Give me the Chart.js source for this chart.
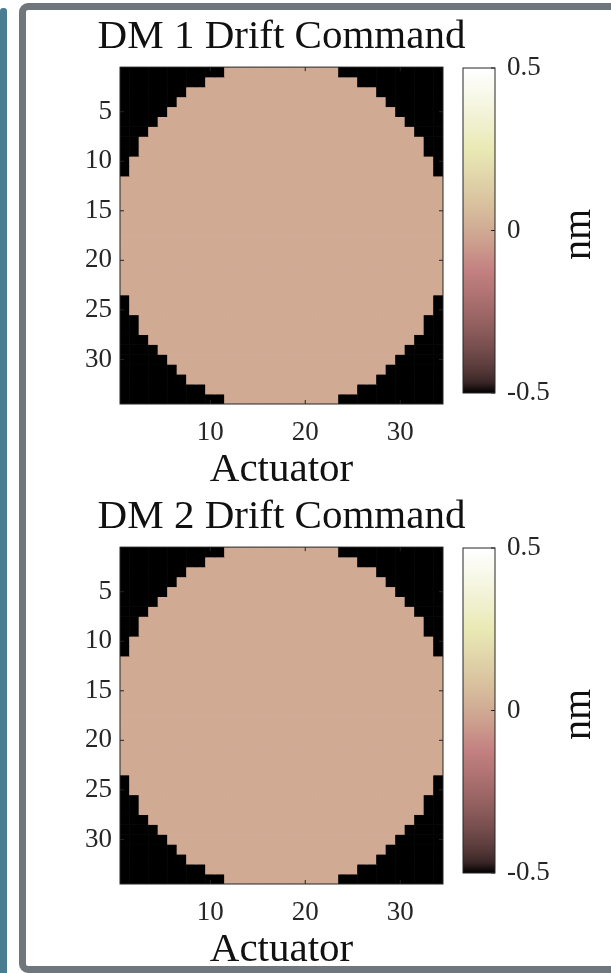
<!DOCTYPE html>
<html>
<head>
<meta charset="utf-8">
<script src="https://cdn.jsdelivr.net/npm/chart.js@4.4.1/dist/chart.umd.min.js"></script>
<style>
  html, body { margin: 0; padding: 0; background: #fff; }
  body { width: 611px; height: 973px; position: relative; overflow: hidden; }
  .strip { position: absolute; left: 0; top: 8px; width: 7px; height: 965px; background: #4a7d92; border-radius: 3px 3px 0 0; }
  .frame { position: absolute; left: 19px; top: 3px; width: 700px; height: 970px; box-sizing: border-box;
           border: 7px solid #6f767c; border-radius: 9px; }
  .box { position: absolute; }
</style>
</head>
<body>
<div class="strip"></div>
<div class="frame"></div>
<div class="box" style="left:20px;top:10px"><canvas id="heat1" width="523" height="479"></canvas></div>
<div class="box" style="left:20px;top:490px"><canvas id="heat2" width="523" height="479"></canvas></div>
<div class="box" style="left:453px;top:10px"><canvas id="bar1" width="158" height="479"></canvas></div>
<div class="box" style="left:453px;top:490px"><canvas id="bar2" width="158" height="479"></canvas></div>
<script>
const serif = "'Liberation Serif', 'Times New Roman', serif";
const axisColor = '#262626';

// actuator index (same for rows and columns)
const actuators = [1, 2, 3, 4, 5, 6, 7, 8, 9, 10, 11, 12, 13, 14, 15, 16, 17,
  18, 19, 20, 21, 22, 23, 24, 25, 26, 27, 28, 29, 30, 31, 32, 33, 34];
// first / last active actuator of each row (pupil mask)
const rowFirst = [12, 10, 8, 7, 6, 5, 4, 3, 3, 2, 2, 1, 1, 1, 1, 1, 1,
  1, 1, 1, 1, 1, 1, 2, 2, 3, 3, 4, 5, 6, 7, 8, 10, 12];
const rowLast = [23, 25, 27, 28, 29, 30, 31, 32, 32, 33, 33, 34, 34, 34, 34, 34, 34,
  34, 34, 34, 34, 34, 34, 33, 33, 32, 32, 31, 30, 29, 28, 27, 25, 23];
// drift command inside the pupil (nm), outside value is the bottom of the scale
const dm1Drift = 0.0;
const dm2Drift = 0.0;
const outsideValue = -0.5;

const xTicks = [10, 20, 30];
const yTicks = [5, 10, 15, 20, 25, 30];
const cbTicks = [-0.5, 0, 0.5];
const cbMin = -0.5;
const cbMax = 0.5;

// MATLAB "pink" colormap
function pinkColor(v) {
  let t = (v - cbMin) / (cbMax - cbMin);
  t = Math.max(0, Math.min(1, t));
  const cl = x => Math.max(0, Math.min(1, x));
  const hr = cl(t / 0.375), hg = cl((t - 0.375) / 0.375), hb = cl((t - 0.75) / 0.25);
  const r = Math.sqrt((2 * t + hr) / 3), g = Math.sqrt((2 * t + hg) / 3), b = Math.sqrt((2 * t + hb) / 3);
  return 'rgb(' + Math.round(r * 255) + ',' + Math.round(g * 255) + ',' + Math.round(b * 255) + ')';
}

const boxPlugin = {
  id: 'box',
  afterDatasetsDraw(chart) {
    const { ctx, chartArea: a, scales } = chart;
    ctx.save();
    ctx.strokeStyle = axisColor;
    ctx.lineWidth = 1;
    ctx.strokeRect(a.left, a.top, a.right - a.left, a.bottom - a.top);
    ctx.beginPath();
    if (chart.canvas.id.startsWith('heat')) {
      xTicks.forEach(t => {
        const x = scales.x.getPixelForValue(actuators.indexOf(t));
        ctx.moveTo(x, a.bottom); ctx.lineTo(x, a.bottom - 4);
        ctx.moveTo(x, a.top); ctx.lineTo(x, a.top + 4);
      });
      yTicks.forEach(t => {
        const y = scales.y.getPixelForValue(t);
        ctx.moveTo(a.left, y); ctx.lineTo(a.left + 4, y);
        ctx.moveTo(a.right, y); ctx.lineTo(a.right - 4, y);
      });
    } else {
      cbTicks.forEach(t => {
        const y = scales.y.getPixelForValue(t);
        ctx.moveTo(a.right, y); ctx.lineTo(a.right - 4, y);
      });
    }
    ctx.stroke();
    ctx.restore();
  }
};

function heatmap(id, title, level) {
  const datasets = actuators.map((row, i) => ({
    label: 'row ' + row,
    data: actuators.map(() => [row - 0.5, row + 0.5]),
    backgroundColor: actuators.map(col =>
      (col >= rowFirst[i] && col <= rowLast[i]) ? pinkColor(level) : pinkColor(outsideValue)),
    borderWidth: 0,
    barPercentage: 1,
    categoryPercentage: 1,
    grouped: false
  }));
  new Chart(document.getElementById(id), {
    type: 'bar',
    data: { labels: actuators, datasets: datasets },
    plugins: [boxPlugin],
    options: {
      responsive: false,
      animation: false,
      layout: { padding: 0 },
      plugins: {
        legend: { display: false },
        tooltip: { enabled: false },
        title: {
          display: true, text: title, fullSize: true, color: '#111',
          font: { family: serif, size: 41, weight: 'normal', lineHeight: 1.1 },
          padding: { top: 5, bottom: 7 }
        }
      },
      scales: {
        x: {
          type: 'category',
          grid: { display: false, drawTicks: false },
          border: { display: false },
          ticks: {
            autoSkip: false, maxRotation: 0, color: axisColor, padding: 13,
            font: { family: serif, size: 27 },
            callback: (v, i) => xTicks.includes(actuators[i]) ? String(actuators[i]) : ''
          },
          title: { display: true, text: 'Actuator', color: '#111', font: { family: serif, size: 41, lineHeight: 0.9 }, padding: 0 },
          afterFit: s => { s.height = 85; }
        },
        y: {
          type: 'linear', reverse: true, min: 0.5, max: 34.5,
          grid: { display: false, drawTicks: false },
          border: { display: false },
          afterBuildTicks: s => { s.ticks = yTicks.map(v => ({ value: v })); },
          ticks: { color: axisColor, padding: 8, font: { family: serif, size: 27 }, callback: v => String(v) },
          afterFit: s => { s.width = 100; }
        },
        // empty right-hand axis: keeps room for the colorbar so the title stays centred
        yRoom: {
          type: 'linear', position: 'right',
          grid: { display: false, drawTicks: false },
          border: { display: false },
          ticks: { display: false },
          afterFit: s => { s.width = 100; }
        }
      }
    }
  });
}

function colorbar(id) {
  const nmLabel = {
    id: 'nmLabel',
    afterDraw(chart) {
      const { ctx, chartArea: a } = chart;
      ctx.save();
      ctx.translate(128, (a.top + a.bottom) / 2 + 4);
      ctx.rotate(-Math.PI / 2);
      ctx.font = '40px ' + serif;
      ctx.fillStyle = '#111';
      ctx.textAlign = 'center';
      ctx.textBaseline = 'alphabetic';
      ctx.fillText('nm', 0, 9);
      ctx.restore();
    }
  };
  new Chart(document.getElementById(id), {
    type: 'bar',
    data: {
      labels: ['nm'],
      datasets: [{
        data: [[cbMin, cbMax]],
        borderWidth: 0,
        barPercentage: 1,
        categoryPercentage: 1,
        inflateAmount: 0,
        backgroundColor: c => {
          const { ctx, chartArea, scales } = c.chart;
          if (!chartArea) return null;
          const g = ctx.createLinearGradient(0, scales.y.getPixelForValue(cbMin), 0, scales.y.getPixelForValue(cbMax));
          for (let k = 0; k <= 32; k++) {
            g.addColorStop(k / 32, pinkColor(cbMin + (cbMax - cbMin) * k / 32));
          }
          return g;
        }
      }]
    },
    plugins: [boxPlugin, nmLabel],
    options: {
      responsive: false,
      animation: false,
      layout: { padding: { left: 10, right: 0, top: 58, bottom: 96 } },
      plugins: { legend: { display: false }, tooltip: { enabled: false } },
      scales: {
        x: { display: false },
        y: {
          position: 'right', min: cbMin, max: cbMax,
          grid: { display: false, drawTicks: false },
          border: { display: false },
          afterBuildTicks: s => { s.ticks = cbTicks.map(v => ({ value: v })); },
          ticks: { color: axisColor, padding: 12, font: { family: serif, size: 27 }, callback: v => String(v) },
          afterFit: s => { s.width = 116; }
        }
      }
    }
  });
}

heatmap('heat1', 'DM 1 Drift Command', dm1Drift);
colorbar('bar1');
heatmap('heat2', 'DM 2 Drift Command', dm2Drift);
colorbar('bar2');
</script>
</body>
</html>
